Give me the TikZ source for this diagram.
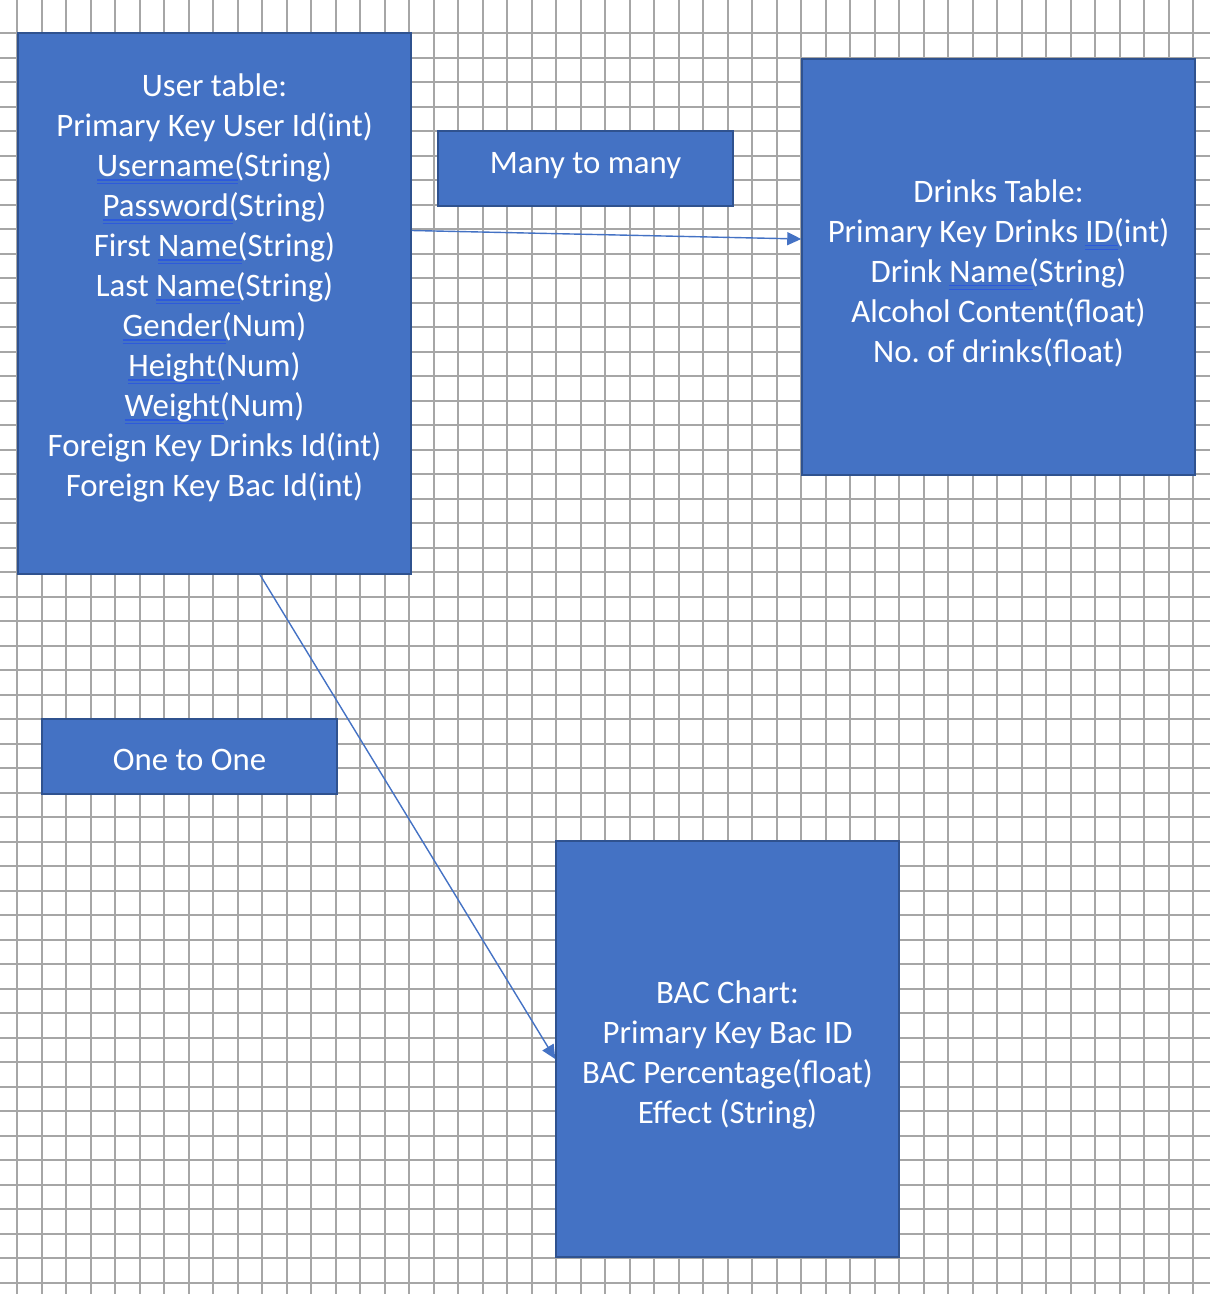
\documentclass[tikz,border=0pt]{standalone}
\usepackage{fontspec}
\setmainfont{Carlito}
\frenchspacing
\usepackage{tikz}
\usetikzlibrary{arrows.meta}
\usepackage{xcolor}
\definecolor{boxblue}{HTML}{4472C4}
\definecolor{boxedge}{HTML}{2F528F}
\definecolor{gridgray}{HTML}{A6A6A6}
\definecolor{gramblue}{RGB}{45,90,220}
\newcommand\gramline[1]{\setbox0\hbox{#1}\rlap{\color{gramblue}\rule[-4pt]{\dimexpr\wd0+4pt}{1.1pt}}\rlap{\color{gramblue}\rule[-7.5pt]{\dimexpr\wd0+4pt}{1.1pt}}\box0}

\begin{document}
\begin{tikzpicture}[x=1pt,y=-1pt,
    tablebox/.style={draw=boxedge, line width=1.5pt, fill=boxblue, text=white, align=center,
        font=\fontsize{32.8}{40}\selectfont, inner sep=0pt},
    link/.style={draw=boxblue, line width=1.4pt, -{Triangle[length=14pt,width=13pt]}}]
        \useasboundingbox (0,0) rectangle (1210,1294);
        % grid paper
        \foreach \k in {0,...,48}
        \draw[gridgray, line width=2pt] (17+24.5*\k,0) -- (17+24.5*\k,1294);
        \foreach \k in {0,...,51}
        \draw[gridgray, line width=2pt] (0,33+24.5*\k) -- (1210,33+24.5*\k);
        % tables
        \node[tablebox, minimum width=393pt, minimum height=541pt] (user) at (214.5,303.5)
        {\rule{0pt}{26pt}User table:\\ Primary Key User Id(int)\\ \gramline{Username}(String)\\
         \gramline{Password}(String)\\ First \gramline{Name}(String)\\
         Last \gramline{Name}(String)\\ \gramline{Gender}(Num)\\ \gramline{Height}(Num)\\
         \gramline{Weight}(Num)\\ Foreign Key Drinks Id(int)\\ Foreign Key Bac Id(int)\\ ~};
        \node[tablebox, minimum width=393pt, minimum height=416pt] (drinks) at (998.5,267)
        {\rule{0pt}{35pt}Drinks Table:\\ Primary Key Drinks \gramline{ID}(int)\\ Drink \gramline{Name}(String)\\
         Alcohol Content(float)\\ No. of drinks(float)};
        \node[tablebox, minimum width=343pt, minimum height=416pt] (bac) at (727.5,1049)
        {\rule{0pt}{34pt}BAC Chart:\\ Primary Key Bac ID\\ BAC Percentage(float)\\ Effect (String)};
        % relation labels
        \node[tablebox, minimum width=295pt, minimum height=75pt] (many) at (585.5,168.5) {\rule[-12pt]{0pt}{0pt}Many to many};
        \node[tablebox, minimum width=295pt, minimum height=75pt] (one) at (189.5,756.5) {\rule{0pt}{29pt}One to One};
        % connectors
        \draw[link] ([yshift=73pt]user.east) -- ([yshift=28pt]drinks.west);
        \draw[link] ([xshift=45.5pt]user.south) -- ([yshift=-10pt]bac.west);
    \end{tikzpicture}
\end{document}
